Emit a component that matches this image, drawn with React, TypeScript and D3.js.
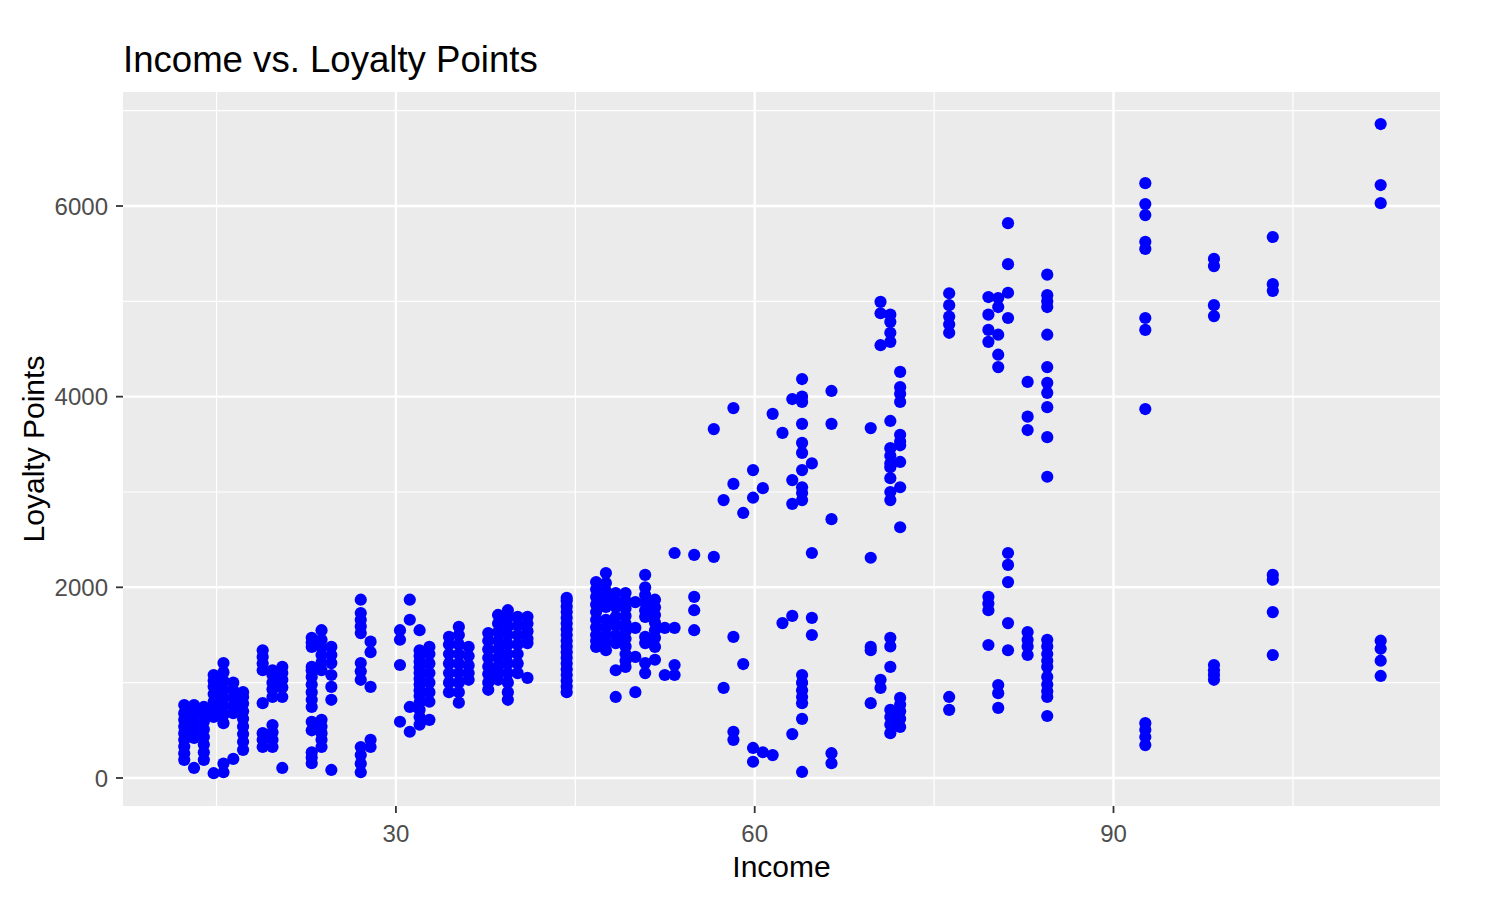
import React from 'react';
import * as d3 from 'd3';

// Income (k£) levels present in the chart
const incomeLevels = [
  12.30, 13.12, 13.94, 14.76, 15.58, 16.40, 17.22, 18.86, 19.68, 20.50,
  22.96, 23.78, 24.60, 27.06, 27.88, 30.34, 31.16, 31.98, 32.80, 34.44,
  35.26, 36.08, 37.72, 38.54, 39.36, 40.18, 41.00, 44.28, 46.74, 47.56,
  48.38, 49.20, 50.02, 50.84, 51.66, 52.48, 53.30, 54.94, 56.58, 57.40,
  58.22, 59.04, 59.86, 60.68, 61.50, 62.32, 63.14, 63.96, 64.78, 66.42,
  69.70, 70.52, 71.34, 72.16, 76.26, 79.54, 80.36, 81.18, 82.82, 84.46,
  92.66, 98.40, 103.32, 112.34,
];

// Loyalty points observed at each income level (same order as incomeLevels)
const loyaltyByIncome: number[][] = [
  [190, 260, 330, 400, 470, 540, 610, 680, 765],
  [105, 420, 500, 580, 660, 740, 765],
  [190, 270, 350, 430, 510, 590, 670, 745],
  [50, 640, 720, 800, 880, 960, 1020, 1080],
  [60, 150, 575, 660, 750, 840, 930, 1020, 1110, 1205],
  [200, 680, 760, 840, 920, 1000],
  [295, 380, 460, 540, 620, 700, 780, 850, 900],
  [325, 400, 470, 785, 1130, 1200, 1270, 1340],
  [325, 400, 480, 555, 850, 930, 1000, 1080, 1130],
  [105, 850, 950, 1030, 1100, 1165],
  [155, 215, 270, 500, 590, 745, 820, 900, 980, 1060, 1130, 1165, 1375, 1420, 1470],
  [325, 400, 470, 540, 610, 1130, 1210, 1290, 1370, 1450, 1550],
  [84, 820, 955, 1080, 1205, 1290, 1375],
  [60, 150, 240, 325, 1030, 1120, 1205, 1520, 1590, 1660, 1730, 1870],
  [325, 400, 955, 1320, 1430],
  [590, 1185, 1450, 1550],
  [485, 745, 1660, 1870],
  [560, 640, 715, 790, 860, 920, 980, 1040, 1100, 1160, 1220, 1280, 1340, 1550],
  [610, 800, 900, 1000, 1100, 1200, 1300, 1375],
  [900, 1000, 1100, 1200, 1300, 1400, 1480],
  [790, 900, 1000, 1100, 1200, 1300, 1400, 1500, 1585],
  [1030, 1100, 1180, 1280, 1375],
  [925, 1000, 1090, 1170, 1260, 1350, 1440, 1520],
  [1030, 1100, 1170, 1260, 1350, 1440, 1530, 1620, 1710],
  [820, 900, 1000, 1100, 1200, 1300, 1400, 1500, 1590, 1680, 1760],
  [1100, 1200, 1300, 1400, 1500, 1600, 1690],
  [1050, 1415, 1460, 1540, 1620, 1690],
  [900, 960, 1020, 1080, 1140, 1200, 1260, 1320, 1380, 1440, 1500, 1560, 1620, 1680, 1740, 1800, 1860, 1890],
  [1375, 1440, 1500, 1580, 1660, 1740, 1820, 1900, 1980, 2055],
  [1340, 1420, 1500, 1580, 1660, 1795, 1880, 1960, 2045, 2150],
  [850, 1130, 1415, 1500, 1600, 1690, 1795, 1860, 1940],
  [1165, 1230, 1300, 1380, 1460, 1540, 1620, 1700, 1780, 1860, 1940],
  [900, 1270, 1575, 1845],
  [1100, 1205, 1415, 1480, 1690, 1760, 1840, 1920, 2000, 2130],
  [1240, 1375, 1470, 1550, 1630, 1710, 1790, 1870],
  [1080, 1575],
  [1080, 1185, 1575, 2360],
  [1550, 1760, 1900, 2340],
  [2320, 3660],
  [945, 2915],
  [400, 485, 1480, 3085, 3880],
  [1195, 2780],
  [170, 315, 2940, 3230],
  [270, 3040],
  [240, 3820],
  [1625, 3620],
  [460, 1700, 2875, 3125, 3975],
  [63, 620, 785, 850, 920, 1000, 1080, 2915, 2990, 3050, 3230, 3410, 3515, 3715, 3945, 4000, 4185],
  [1500, 1680, 2360, 3300],
  [155, 260, 2715, 3715, 4060],
  [785, 1340, 1375, 2310, 3670],
  [945, 1030, 4540, 4875, 4995],
  [470, 560, 640, 715, 1165, 1380, 1470, 2915, 3000, 3145, 3260, 3300, 3380, 3460, 3745, 4575, 4670, 4785, 4860],
  [535, 620, 700, 770, 840, 2630, 3050, 3315, 3490, 3530, 3600, 3945, 4030, 4100, 4260],
  [715, 850, 4670, 4760, 4840, 4960, 5085],
  [1395, 1760, 1830, 1900, 4575, 4700, 4860, 5045],
  [735, 890, 975, 4310, 4440, 4650, 4940, 5035],
  [1340, 1625, 2055, 2235, 2360, 4825, 5090, 5390, 5820],
  [1290, 1380, 1450, 1530, 3650, 3790, 4155],
  [650, 850, 910, 980, 1060, 1165, 1230, 1300, 1380, 1450, 3160, 3575, 3890, 4040, 4145, 4310, 4650, 4940, 5000, 5065, 5280],
  [345, 430, 505, 575, 3870, 4700, 4825, 5550, 5625, 5905, 6020, 6240],
  [1030, 1080, 1130, 1185, 4845, 4960, 5370, 5445],
  [1290, 1740, 2080, 2130, 5110, 5180, 5675],
  [1070, 1230, 1355, 1440, 6030, 6220, 6860],
];

const xMajorTicks = [30, 60, 90];
const xMinorTicks = [15, 45, 75, 105];
const yMajorTicks = [0, 2000, 4000, 6000];
const yMinorTicks = [1000, 3000, 5000, 7000];

const titleText = 'Income vs. Loyalty Points';
const xTitle = 'Income';
const yTitle = 'Loyalty Points';

export default function App() {
  const W = 1488;
  const H = 899;
  const P = { left: 123, right: 1440, top: 92, bottom: 806 };
  const x = d3.scaleLinear().domain([7.18, 117.3]).range([P.left, P.right]);
  const y = d3.scaleLinear().domain([-294, 7196]).range([P.bottom, P.top]);
  const font = '"Liberation Sans", Arial, Helvetica, sans-serif';

  const points = incomeLevels.flatMap((inc, i) =>
    (loyaltyByIncome[i] || []).map((v) => ({ inc, v }))
  );

  return (
    <svg
      width={W}
      height={H}
      viewBox={`0 0 ${W} ${H}`}
      style={{ position: 'absolute', left: 0, top: 0, background: '#fff' }}
      fontFamily={font}
    >
      <rect x={0} y={0} width={W} height={H} fill="#fff" />
      <rect x={P.left} y={P.top} width={P.right - P.left} height={P.bottom - P.top} fill="#EBEBEB" />
      {/* minor grid */}
      {xMinorTicks.map((t) => (
        <line key={'xm' + t} x1={x(t)} x2={x(t)} y1={P.top} y2={P.bottom} stroke="#fff" strokeWidth={1.2} />
      ))}
      {yMinorTicks.map((t) => (
        <line key={'ym' + t} x1={P.left} x2={P.right} y1={y(t)} y2={y(t)} stroke="#fff" strokeWidth={1.2} />
      ))}
      {/* major grid */}
      {xMajorTicks.map((t) => (
        <line key={'xM' + t} x1={x(t)} x2={x(t)} y1={P.top} y2={P.bottom} stroke="#fff" strokeWidth={2.4} />
      ))}
      {yMajorTicks.map((t) => (
        <line key={'yM' + t} x1={P.left} x2={P.right} y1={y(t)} y2={y(t)} stroke="#fff" strokeWidth={2.4} />
      ))}
      {/* points */}
      {points.map((p, i) => (
        <circle key={i} cx={x(p.inc)} cy={y(p.v)} r={6.1} fill="#0000FF" />
      ))}
      {/* axis ticks */}
      {xMajorTicks.map((t) => (
        <g key={'xt' + t}>
          <line x1={x(t)} x2={x(t)} y1={P.bottom} y2={P.bottom + 7} stroke="#333" strokeWidth={1.8} />
          <text x={x(t)} y={842} textAnchor="middle" fontSize={24} fill="#4D4D4D">{t}</text>
        </g>
      ))}
      {yMajorTicks.map((t) => (
        <g key={'yt' + t}>
          <line x1={P.left - 7} x2={P.left} y1={y(t)} y2={y(t)} stroke="#333" strokeWidth={1.8} />
          <text x={108} y={y(t)} dy="0.36em" textAnchor="end" fontSize={24} fill="#4D4D4D">{t}</text>
        </g>
      ))}
      {/* titles */}
      <text x={P.left} y={72} fontSize={36.6} fill="#000">{titleText}</text>
      <text x={(P.left + P.right) / 2} y={877} textAnchor="middle" fontSize={30} fill="#000">{xTitle}</text>
      <text
        transform={`translate(44, ${(P.top + P.bottom) / 2}) rotate(-90)`}
        textAnchor="middle"
        fontSize={30}
        fill="#000"
      >
        {yTitle}
      </text>
    </svg>
  );
}
